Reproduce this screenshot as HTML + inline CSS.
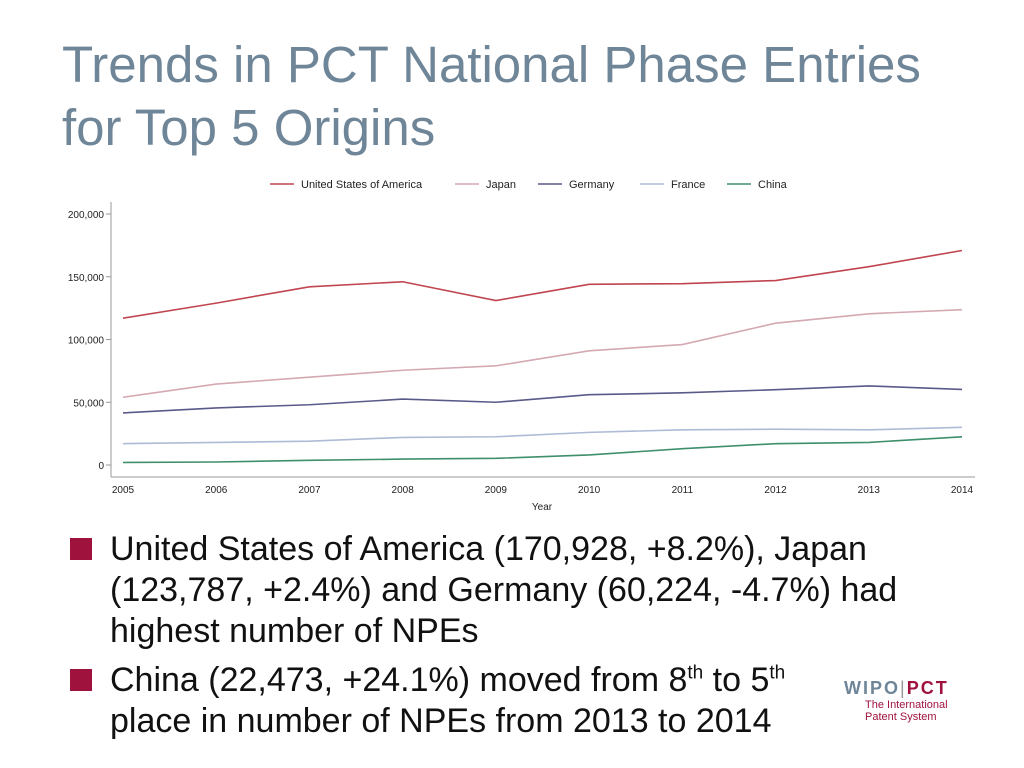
<!DOCTYPE html>
<html><head><meta charset="utf-8"><style>
body{margin:0;width:1024px;height:768px;background:#fff;overflow:hidden;font-family:"Liberation Sans",sans-serif;position:relative}
h1{position:absolute;left:62px;top:33px;margin:0;font-weight:normal;font-size:51px;line-height:63px;color:#6f8598;white-space:nowrap;letter-spacing:0px}
.b{position:absolute;left:70px;font-size:34px;line-height:41px;color:#111;white-space:nowrap}
.sq{position:absolute;left:0;top:9px;width:22px;height:22px;background:#a0123e}
.t{margin-left:40px}
sup{font-size:19px;line-height:0}
</style></head><body>
<h1>Trends in PCT National Phase Entries<br>for Top 5 Origins</h1>
<svg id="chart" width="1024" height="520" style="position:absolute;left:0;top:0;font-family:'Liberation Sans',sans-serif"></svg>
<div class="b" style="top:529px"><div class="sq"></div><div class="t">United States of America (170,928, +8.2%), Japan<br>(123,787, +2.4%) and Germany (60,224, -4.7%) had<br>highest number of NPEs</div></div>
<div class="b" style="top:660px"><div class="sq"></div><div class="t">China (22,473, +24.1%) moved from 8<sup>th</sup> to 5<sup>th</sup><br>place in number of NPEs from 2013 to 2014</div></div>
<div style="position:absolute;left:844px;top:678px">
<div style="font-weight:bold;font-size:18px;letter-spacing:2px;color:#6f8598">WIPO<span style="color:#999;font-weight:normal">|</span><span style="color:#a0123e">PCT</span></div>
<div style="font-size:11px;color:#a0123e;margin-left:21px;line-height:12px">The International<br>Patent System</div></div>
<script>
const years=[2005,2006,2007,2008,2009,2010,2011,2012,2013,2014];
const names=["United States of America","Japan","Germany","France","China"];
const colors=["#c0454f","#d4a9b2","#5a5a8a","#aebbd6","#3f8f6c"];
const us=[117000,129000,142000,146000,131000,144000,144500,147000,158000,170928];
const jp=[54000,64500,70000,75500,79000,91000,96000,113000,120500,123787];
const de=[41500,45500,48000,52500,50000,56000,57500,60000,63000,60224];
const fr=[17000,18000,19000,22000,22500,26000,28000,28500,28000,30000];
const cn=[2000,2400,3700,4700,5300,8000,13000,17000,18000,22473];
const yticks=[0,50000,100000,150000,200000];
const series=[us,jp,de,fr,cn];
const svg=document.getElementById('chart');const NS='http://www.w3.org/2000/svg';
const x=y=>123+(y-2005)*(962-123)/9;
const yy=v=>465-v*(465-214)/200000;
function el(t,a,txt){const e=document.createElementNS(NS,t);for(const k in a)e.setAttribute(k,a[k]);if(txt!==undefined)e.textContent=txt;svg.appendChild(e);return e;}
let e=el('line',{x1:111,y1:202,x2:111,y2:477,stroke:'#999'});

e=el('line',{x1:111,y1:477,x2:975,y2:477,stroke:'#999'});

yticks.forEach(v=>{el('line',{x1:106,x2:111,y1:yy(v),y2:yy(v),stroke:'#999'});
e=el('text',{x:104,y:yy(v)+4,'font-size':10,'text-anchor':'end',fill:'#222'},v.toLocaleString('en-US'));
});
years.forEach(y=>{e=el('text',{x:x(y),y:493,'font-size':10,'text-anchor':'middle',fill:'#222'},y);
});
e=el('text',{x:542,y:510,'font-size':10,'text-anchor':'middle',fill:'#222'},'Year');

series.forEach((s,i)=>{e=el('polyline',{points:s.map((v,j)=>x(years[j])+','+yy(v)).join(' '),fill:'none',stroke:colors[i],'stroke-width':1.6});
});
const lx=[270,455,538,640,727];
names.forEach((n,i)=>{el('line',{x1:lx[i],x2:lx[i]+24,y1:184,y2:184,stroke:colors[i],'stroke-width':1.6});
e=el('text',{x:lx[i]+31,y:188,'font-size':11,fill:'#222'},n);
});
</script>
</body></html>
